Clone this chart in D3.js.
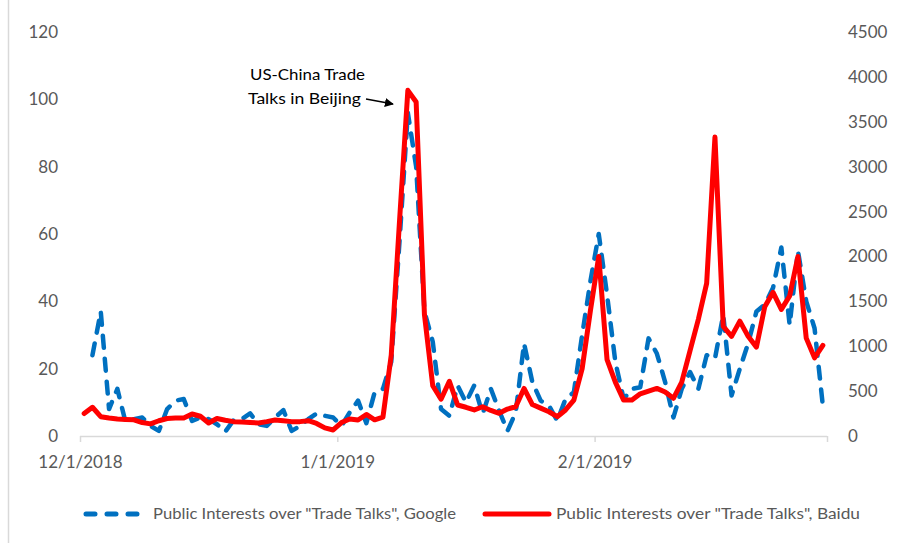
<!DOCTYPE html>
<html>
<head>
<meta charset="utf-8">
<script src="https://cdn.jsdelivr.net/npm/d3@7"></script>
<style>
  html, body { margin: 0; padding: 0; background: #fff; }
  svg { display: block; }
</style>
</head>
<body>
<svg id="chart" width="902" height="543"></svg>
<script>
// Daily search interest, 12/1/2018 - 2/28/2019
const startDate = new Date(2018, 11, 1);
const endDate = new Date(2019, 2, 1);

// Google Trends index (left axis); no reading for the first day
const googleValues = [
  null, 24, 37, 8, 14, 4, 5, 5.5, 3, 1.5,
  8, 10.5, 11, 4.5, 5.5, 5, 3.5, 1.3, 4.7, 5,
  6.7, 3.5, 3, 5.5, 7.7, 1.5, 3, 5, 6.7, 6,
  5.5, 3, 7, 10.5, 3.8, 13, 14, 22, 58, 96,
  80, 37, 28, 8, 6, 15, 10, 15, 6.5, 14,
  7.5, 1.5, 7, 27.5, 16, 10.5, 9, 4.5, 11, 13,
  30, 46, 60, 42, 22, 11, 14, 14.5, 29, 24.5,
  16, 5.5, 14, 19, 14, 24, 23, 36, 12, 20,
  27.5, 37, 39, 44, 56, 33, 55, 40, 32, 9
];

// Baidu index (right axis)
const baiduValues = [
  250, 320, 215, 200, 190, 185, 180, 150, 135, 170,
  195, 200, 200, 245, 220, 145, 195, 175, 160, 155,
  150, 145, 160, 178, 170, 160, 160, 170, 140, 90,
  67, 150, 190, 178, 240, 180, 210, 900, 2400, 3850,
  3720, 1350, 560, 410, 610, 345, 320, 290, 326, 285,
  253, 300, 326, 530, 350, 310, 270, 215, 290, 400,
  750, 1400, 2000, 850, 600, 400, 400, 470, 500, 530,
  490, 420, 600, 950, 1300, 1700, 3330, 1220, 1110, 1280,
  1110, 990, 1440, 1600, 1410, 1560, 2000, 1090, 870, 1010
];

const leftTicks = [0, 20, 40, 60, 80, 100, 120];
const rightTicks = [0, 500, 1000, 1500, 2000, 2500, 3000, 3500, 4000, 4500];
const xTickDates = [new Date(2018, 11, 1), new Date(2019, 0, 1), new Date(2019, 1, 1), new Date(2019, 2, 1)];
const xTickLabels = ["12/1/2018", "1/1/2019", "2/1/2019", ""];

const seriesNames = [
  'Public Interests over "Trade Talks", Google',
  'Public Interests over "Trade Talks", Baidu'
];
const noteLines = ["US-China Trade", "Talks in Beijing"];

const days = d3.timeDay.range(startDate, endDate);

const svg = d3.select("#chart");
const font = "Lato, 'Open Sans', sans-serif";
const textGrey = "#595959";
const axisGrey = "#d9d9d9";
const blue = "#0070C0";
const red = "#FF0000";

const plot = { left: 80, right: 827, top: 32, bottom: 436 };

const x = d3.scaleTime().domain([startDate, endDate]).range([plot.left, plot.right]);
const yL = d3.scaleLinear().domain([0, 120]).range([plot.bottom, plot.top]);
const yR = d3.scaleLinear().domain([0, 4500]).range([plot.bottom, plot.top]);

// each day's point sits in the middle of its day slot
const xMid = d => x(d3.timeHour.offset(d, 12));

// chart area outline on the left
svg.append("line")
  .attr("x1", 8.5).attr("x2", 8.5).attr("y1", 0).attr("y2", 543)
  .attr("stroke", axisGrey).attr("stroke-width", 1.5);

// left value axis
const gL = svg.append("g").attr("transform", `translate(${plot.left - 22},0)`)
  .call(d3.axisLeft(yL).tickValues(leftTicks).tickSize(0).tickPadding(0));
gL.select(".domain").remove();
gL.selectAll("text").attr("font-family", font).attr("font-size", 17).attr("fill", textGrey);

// right value axis
const gR = svg.append("g").attr("transform", `translate(${plot.right + 21},0)`)
  .call(d3.axisRight(yR).tickValues(rightTicks).tickSize(0).tickPadding(0)
    .tickFormat(d3.format("d")));
gR.select(".domain").remove();
gR.selectAll("text").attr("font-family", font).attr("font-size", 17).attr("fill", textGrey);

// date axis
const gX = svg.append("g").attr("transform", `translate(0,${plot.bottom})`)
  .call(d3.axisBottom(x).tickValues(xTickDates).tickSize(6).tickPadding(14)
    .tickFormat((d, i) => xTickLabels[i]));
gX.select(".domain").attr("stroke", axisGrey).attr("stroke-width", 1.5)
  .attr("d", `M${plot.left},0.5H${plot.right}`);
gX.selectAll(".tick line").attr("stroke", axisGrey).attr("stroke-width", 1.5);
gX.selectAll("text").attr("font-family", font).attr("font-size", 17).attr("fill", textGrey);

// series lines
const googleLine = d3.line()
  .defined(v => v !== null)
  .x((v, i) => xMid(days[i]))
  .y(v => yL(v));

const baiduLine = d3.line()
  .x((v, i) => xMid(days[i]))
  .y(v => yR(v));

svg.append("path")
  .datum(googleValues)
  .attr("d", googleLine)
  .attr("fill", "none")
  .attr("stroke", blue)
  .attr("stroke-width", 4.5)
  .attr("stroke-dasharray", "12,11")
  .attr("stroke-linecap", "round")
  .attr("stroke-linejoin", "round");

svg.append("path")
  .datum(baiduValues)
  .attr("d", baiduLine)
  .attr("fill", "none")
  .attr("stroke", red)
  .attr("stroke-width", 5)
  .attr("stroke-linecap", "round")
  .attr("stroke-linejoin", "round");

// annotation for the January talks
const note = svg.append("text")
  .attr("font-family", font).attr("font-size", 15).attr("fill", "#000");
note.selectAll("tspan").data(noteLines).join("tspan")
  .attr("x", (d, i) => i === 0 ? 250 : 248)
  .attr("y", (d, i) => 80 + i * 24)
  .attr("textLength", (d, i) => i === 0 ? 115 : 113)
  .attr("lengthAdjust", "spacingAndGlyphs")
  .text(d => d);

svg.append("defs").append("marker")
  .attr("id", "arrowHead")
  .attr("viewBox", "0 0 10 10")
  .attr("refX", 9).attr("refY", 5)
  .attr("markerWidth", 6).attr("markerHeight", 6)
  .attr("markerUnits", "strokeWidth")
  .attr("orient", "auto")
  .append("path").attr("d", "M0,0L10,5L0,10Z").attr("fill", "#000");

svg.append("line")
  .attr("x1", 366).attr("y1", 99).attr("x2", 393).attr("y2", 104)
  .attr("stroke", "#000").attr("stroke-width", 1.5)
  .attr("marker-end", "url(#arrowHead)");

// legend
const legendY = 514;
const lg = svg.append("g");
lg.append("line")
  .attr("x1", 86).attr("x2", 144).attr("y1", legendY).attr("y2", legendY)
  .attr("stroke", blue).attr("stroke-width", 5)
  .attr("stroke-dasharray", "9,12").attr("stroke-linecap", "round");
lg.append("text")
  .attr("x", 153).attr("y", legendY + 5)
  .attr("font-family", font).attr("font-size", 15.5).attr("fill", textGrey)
  .attr("textLength", 303).attr("lengthAdjust", "spacingAndGlyphs")
  .text(seriesNames[0]);
lg.append("line")
  .attr("x1", 485).attr("x2", 549).attr("y1", legendY).attr("y2", legendY)
  .attr("stroke", red).attr("stroke-width", 5).attr("stroke-linecap", "round");
lg.append("text")
  .attr("x", 556).attr("y", legendY + 5)
  .attr("font-family", font).attr("font-size", 15.5).attr("fill", textGrey)
  .attr("textLength", 304).attr("lengthAdjust", "spacingAndGlyphs")
  .text(seriesNames[1]);
</script>
</body>
</html>
